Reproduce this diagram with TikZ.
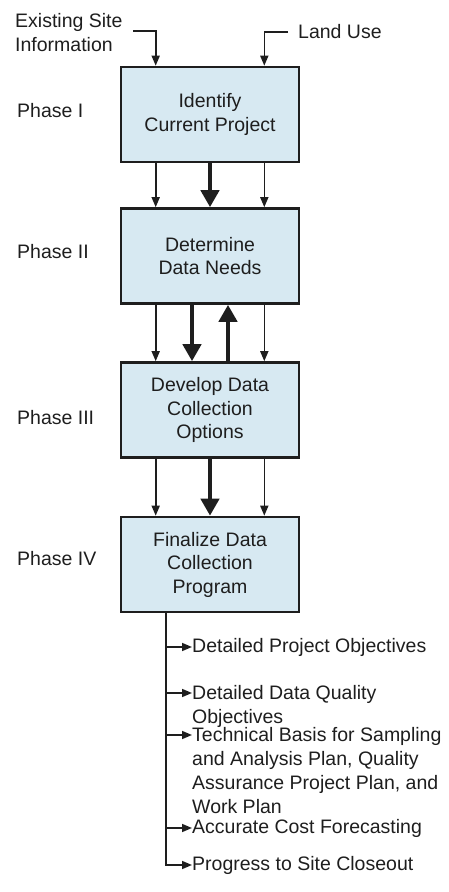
\documentclass[tikz,border=0pt]{standalone}
\usepackage{fontspec}
\setmainfont{Liberation Sans}
\usetikzlibrary{arrows.meta}
\definecolor{boxfill}{HTML}{D7E9F2}
\definecolor{ink}{HTML}{1E1E1E}
\begin{document}
\begin{tikzpicture}[x=1pt,y=-1pt,
  every node/.style={font=\fontsize{19.5}{23.5}\selectfont, text=ink, inner sep=0pt},
  phasebox/.style={draw=ink, line width=2.6pt, fill=boxfill,
    minimum width=178pt, minimum height=95pt, align=center},
  phaselbl/.style={anchor=west},
  itemtxt/.style={align=left},
  thinarr/.style={draw=ink, line width=1.6pt, -{Triangle[width=8pt,length=10pt]}},
  thickarr/.style={draw=ink, line width=4.6pt, -{Triangle[width=18pt,length=17pt]}}
]
\useasboundingbox (0,0) rectangle (449,892);

% inputs
\node[itemtxt, anchor=west] (esi) at (15,32.5) {Existing Site\\Information};
\node[anchor=west] (lu) at (298,32) {Land Use};

% phase boxes
\node[phasebox] (b1) at (210,114.5) {Identify\\Current Project};
\node[phasebox] (b2) at (210,256) {Determine\\Data Needs};
\node[phasebox] (b3) at (210,410) {Develop Data\\Collection\\Options};
\node[phasebox] (b4) at (210,564.5) {Finalize Data\\Collection\\Program};

% phase labels
\node[phaselbl] (p1) at (17,111) {Phase I};
\node[phaselbl] (p2) at (17,252) {Phase II};
\node[phaselbl] (p3) at (17,418) {Phase III};
\node[phaselbl] (p4) at (17,559) {Phase IV};

% inputs into phase I
\coordinate (esiend) at (133,31);
\coordinate (luend) at (288,32);
\draw[thinarr] (esiend) -| ([xshift=36pt]b1.north west);
\draw[thinarr] (luend) -| ([xshift=-36pt]b1.north east);

% flow between phases
\foreach \a/\b in {b1/b2,b2/b3,b3/b4}{
  \draw[thinarr] ([xshift=36pt]\a.south west) -- ([xshift=36pt]\b.north west);
  \draw[thinarr] ([xshift=-36pt]\a.south east) -- ([xshift=-36pt]\b.north east);
}
\draw[thickarr] (b1.south) -- (b2.north);
\draw[thickarr] ([xshift=-18pt]b2.south) -- ([xshift=-18pt]b3.north);
\draw[thickarr] ([xshift=18pt]b3.north) -- ([xshift=18pt]b2.south);
\draw[thickarr] (b3.south) -- (b4.north);

% outputs
\node[itemtxt, anchor=west] (o1) at (192,647) {Detailed Project Objectives};
\node[itemtxt, anchor=north west] (o2) at (192,685.5) {Detailed Data Quality\\Objectives};
\node[itemtxt, anchor=north west, font=\fontsize{19.5}{24}\selectfont] (o3) at (192,727.5) {Technical Basis for Sampling\\and Analysis Plan, Quality\\Assurance Project Plan, and\\Work Plan};
\node[itemtxt, anchor=west] (o4) at (192,828) {Accurate Cost Forecasting};
\node[itemtxt, anchor=west] (o5) at (192,865) {Progress to Site Closeout};

\coordinate (trunk) at ([xshift=46pt]b4.south west);
\draw[thinarr] (trunk) |- (o5.west);
\draw[thinarr] (trunk |- o1.west) -- (o1.west);
\draw[thinarr] (trunk |- 0,693) -- ([yshift=-7.5pt]o2.north west);
\draw[thinarr] (trunk |- 0,735) -- ([yshift=-7.5pt]o3.north west);
\draw[thinarr] (trunk |- o4.west) -- (o4.west);
\end{tikzpicture}
\end{document}
